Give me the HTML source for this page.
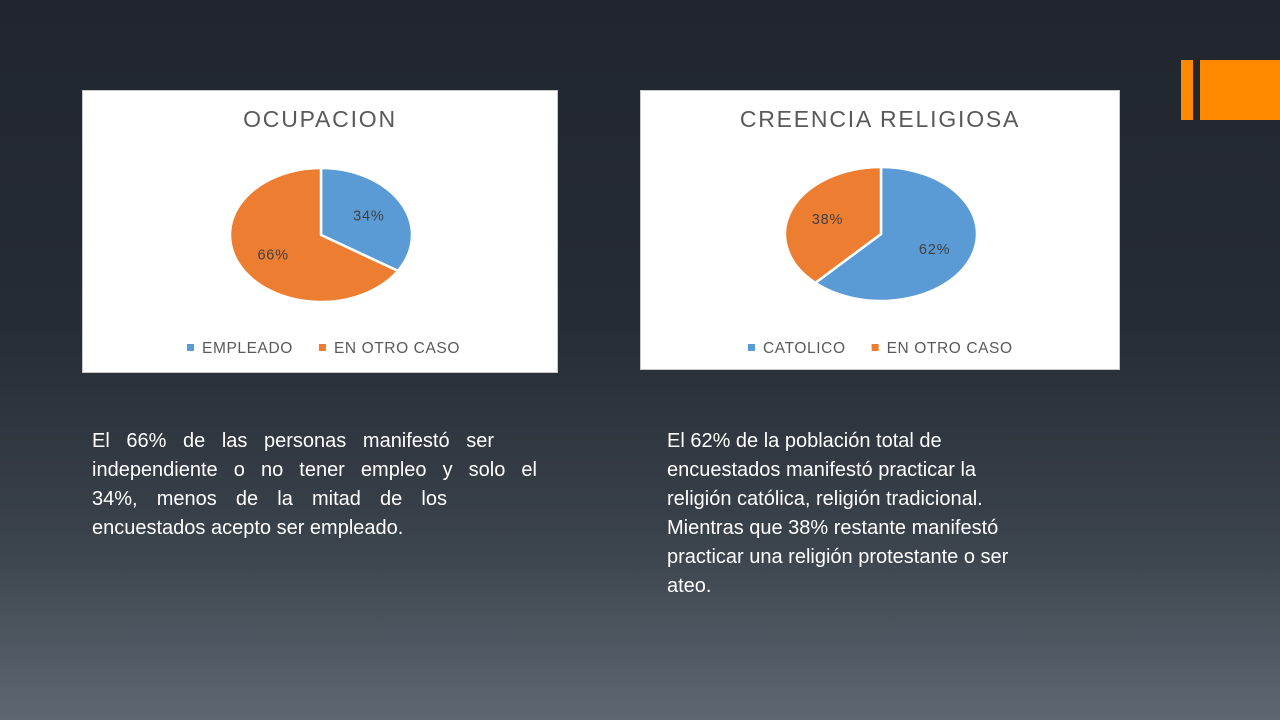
<!DOCTYPE html>
<html><head><meta charset="utf-8"><style>
html,body{margin:0;padding:0}
body{width:1280px;height:720px;overflow:hidden;position:relative;background:linear-gradient(180deg,#21262e 0%,#262c34 45%,#3a424b 75%,#5e6872 100%);font-family:"Liberation Sans",Arial,sans-serif}
.chart{position:absolute;background:#fff;border:1px solid #c9c9c9}
.txt{position:absolute;color:#fff;font-size:20px;line-height:29px}
.txt span{display:block;white-space:nowrap}
.j span{text-align:justify;text-align-last:justify}
.j span.last{text-align-last:left}
.bar{position:absolute;background:#ff8a00}
</style></head><body>
<div class="bar" style="left:1181px;top:60px;width:12px;height:60px"></div>
<div class="bar" style="left:1200px;top:60px;width:80px;height:60px"></div>

<div class="chart" style="left:82px;top:90px;width:474px;height:281px">
<svg id="c1" width="474" height="281"></svg></div>
<div class="chart" style="left:640px;top:90px;width:478px;height:278px">
<svg id="c2" width="478" height="278"></svg></div>

<div class="txt j" style="left:92px;top:427px;width:445px">
<span style="width:402px">El 66% de las personas manifestó ser</span>
<span style="width:445px">independiente o no tener empleo y solo el</span>
<span style="width:355px">34%, menos de la mitad de los</span>
<span class="last">encuestados acepto ser empleado.</span></div>
<div class="txt" style="left:667px;top:427px;width:430px">
<span>El 62% de la población total de</span>
<span>encuestados manifestó practicar la</span>
<span>religión católica, religión tradicional.</span>
<span>Mientras que 38% restante manifestó</span>
<span>practicar una religión protestante o ser</span>
<span>ateo.</span></div>

<script>
const ns="http://www.w3.org/2000/svg";
const c1Categories=["EMPLEADO","EN OTRO CASO"];
const c1Values=[34,66];
const c2Categories=["CATOLICO","EN OTRO CASO"];
const c2Values=[62,38];
const colors=["#5b9bd5","#ed7d31"];
function mk(tag,attrs,parent){const e=document.createElementNS(ns,tag);for(const k in attrs)e.setAttribute(k,attrs[k]);parent.appendChild(e);return e;}
function draw(svg,title,cats,vals,cx,cy,rx,ry,legendX,key){
  const t=mk("text",{x:svg.getAttribute("width")/2,y:36,"text-anchor":"middle","font-size":"23","fill":"#595959","letter-spacing":"1.8"},svg);
  t.textContent=title;
  
  
  const total=vals.reduce((a,b)=>a+b,0);
  let a0=0;
  vals.forEach((v,i)=>{
    const a1=a0+v/total*2*Math.PI;
    const x0=cx+rx*Math.sin(a0),y0=cy-ry*Math.cos(a0),x1=cx+rx*Math.sin(a1),y1=cy-ry*Math.cos(a1);
    const large=(a1-a0)>Math.PI?1:0;
    const p=mk("path",{d:`M${cx},${cy}L${x0},${y0}A${rx},${ry} 0 ${large} 1 ${x1},${y1}Z`,fill:colors[i],stroke:"#fff","stroke-width":"2.5","stroke-linejoin":"round"},svg);
    
    
    const am=(a0+a1)/2;
    const lb=mk("text",{x:cx+rx*0.6*Math.sin(am),y:cy-ry*0.6*Math.cos(am)+5,"text-anchor":"middle","font-size":"14.5","fill":"#404040","letter-spacing":"0.8"},svg);
    lb.textContent=vals[i]+"%";
    
    
    a0=a1;
  });
  let lx=legendX;
  cats.forEach((c,i)=>{
    const g=mk("g",{},svg);
    
    
    mk("rect",{x:lx,y:253,width:7,height:7,fill:colors[i]},g);
    const tx=mk("text",{x:lx+15,y:262,"font-size":"15.5","fill":"#595959","letter-spacing":"0.6"},g);
    tx.textContent=c;
    lx+=15+tx.getComputedTextLength()+26;
  });
}
draw(document.getElementById("c1"),"OCUPACION",c1Categories,c1Values,238,144,91,67,104,"ocupacion");
draw(document.getElementById("c2"),"CREENCIA RELIGIOSA",c2Categories,c2Values,240,143,96,67,107,"creencia");
</script>
</body></html>
